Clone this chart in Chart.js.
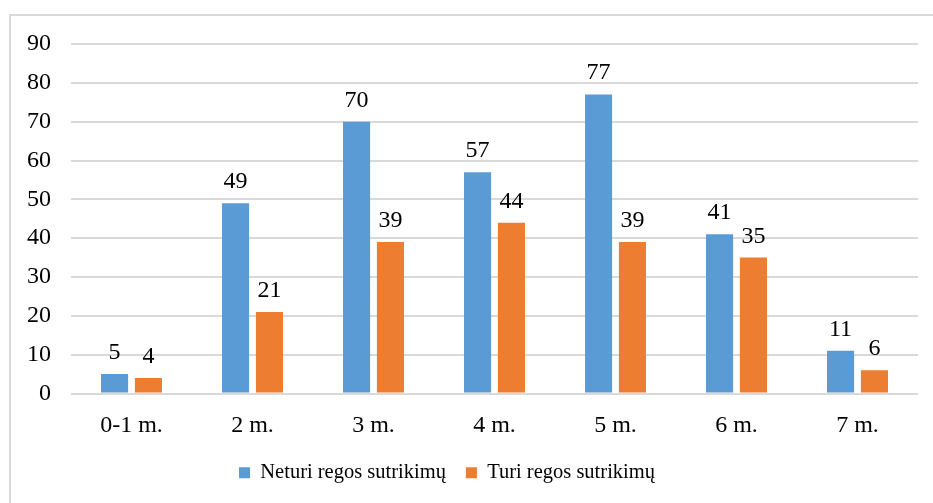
<!DOCTYPE html>
<html>
<head>
<meta charset="utf-8">
<script src="https://cdn.jsdelivr.net/npm/chart.js@4/dist/chart.umd.min.js"></script>
<style>
  html, body { margin: 0; padding: 0; background: #fff; overflow: hidden; }
  .frame {
    position: absolute; left: 9px; top: 14px; width: 940px; height: 500px;
    border-left: 2px solid #d9d9d9; border-top: 2px solid #d9d9d9;
  }
  .wrap { position: absolute; left: 0; top: 0; width: 933px; height: 503px; }
</style>
</head>
<body>
<div class="frame"></div>
<div class="wrap"><canvas id="chart"></canvas></div>
<script>
// categories and series
const ageGroups = ['0-1 m.', '2 m.', '3 m.', '4 m.', '5 m.', '6 m.', '7 m.'];
const withoutImpairment = [5, 49, 70, 57, 77, 41, 11];
const withImpairment = [4, 21, 39, 44, 39, 35, 6];
const seriesNames = ['Neturi regos sutrikimų', 'Turi regos sutrikimų'];

const FONT = '"Liberation Serif", "Times New Roman", serif';

/**
 * Draws the value of every bar just above it.
 */
const valueLabels = {
    id: 'valueLabels',
    afterDatasetsDraw(chart) {
        const ctx = chart.ctx;
        ctx.save();
        ctx.font = '24px ' + FONT;
        ctx.fillStyle = '#000';
        ctx.textAlign = 'center';
        ctx.textBaseline = 'alphabetic';
        chart.data.datasets.forEach((ds, i) => {
            chart.getDatasetMeta(i).data.forEach((bar, j) => {
                ctx.fillText(String(ds.data[j]), bar.x, bar.y - 15);
            });
        });
        ctx.restore();
    }
};

/**
 * Moves the legend a little to the left, as in the source picture.
 */
const legendShift = {
    id: 'legendShift',
    afterLayout(chart) {
        chart.legend.left -= 12;
        chart.legend.right -= 12;
    }
};

new Chart(document.getElementById('chart'), {
    type: 'bar',
    data: {
        labels: ageGroups,
        datasets: [
            { label: seriesNames[0], data: withoutImpairment, backgroundColor: '#5B9BD5' },
            { label: seriesNames[1], data: withImpairment, backgroundColor: '#ED7D31' },
        ],
    },
    options: {
        responsive: true,
        maintainAspectRatio: false,
        animation: false,
        layout: { padding: { left: 0, right: 15, top: 44, bottom: 10 } },
        datasets: { bar: { categoryPercentage: 0.56, barPercentage: 0.8 } },
        scales: {
            x: {
                grid: { display: false },
                border: { display: false },
                ticks: { color: '#000', font: { family: FONT, size: 24 }, padding: 10 },
                afterFit(scale) { scale.height = 49; },
            },
            y: {
                min: 0,
                max: 90,
                border: { display: false },
                grid: { color: '#d9d9d9', lineWidth: 2, drawTicks: false },
                ticks: { stepSize: 10, color: '#000', font: { family: FONT, size: 24 }, padding: 20 },
                afterFit(scale) { scale.width = 71; },
            },
        },
        plugins: {
            legend: {
                position: 'bottom',
                labels: {
                    color: '#000',
                    font: { family: FONT, size: 20.5 },
                    boxWidth: 11,
                    boxHeight: 11,
                    padding: 20,
                },
            },
            tooltip: { enabled: false },
        },
    },
    plugins: [valueLabels, legendShift],
});
</script>
</body>
</html>
